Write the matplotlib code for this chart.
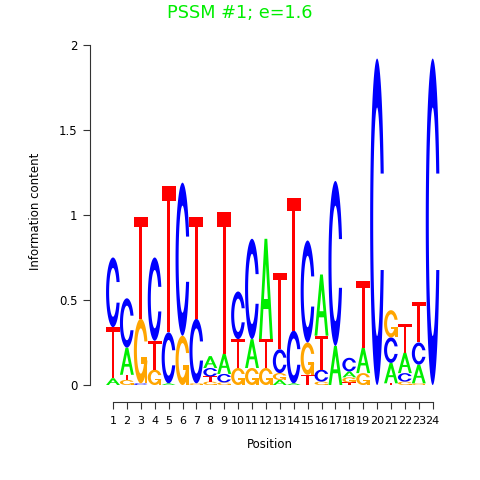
import matplotlib
matplotlib.use("Agg")

import matplotlib.pyplot as plt
import numpy as np
from matplotlib.patches import Polygon


TITLE = "PSSM #1; e=1.6"
POSITIONS = np.arange(1, 25)
# information content (bits) of each base per position
A_BITS = [0.04, 0.16, 0.00, 0.00, 0.01, 0.00, 0.00, 0.07, 0.12, 0.00, 0.17, 0.59,
          0.03, 0.01, 0.00, 0.36, 0.23, 0.035, 0.15, 0.00, 0.12, 0.12, 0.11, 0.00]
C_BITS = [0.41, 0.29, 0.01, 0.49, 0.30, 0.90, 0.38, 0.05, 0.05, 0.28, 0.59, 0.00,
          0.14, 0.31, 0.60, 0.07, 0.97, 0.08, 0.00, 1.92, 0.15, 0.05, 0.13, 1.92]
G_BITS = [0.00, 0.03, 0.38, 0.09, 0.00, 0.29, 0.01, 0.02, 0.015, 0.10, 0.10, 0.10,
          0.04, 0.00, 0.19, 0.02, 0.00, 0.03, 0.07, 0.00, 0.16, 0.02, 0.01, 0.00]
T_BITS = [0.30, 0.03, 0.60, 0.17, 0.86, 0.00, 0.60, 0.03, 0.83, 0.17, 0.00, 0.17,
          0.45, 0.78, 0.06, 0.20, 0.00, 0.015, 0.39, 0.00, 0.01, 0.17, 0.24, 0.00]

LETTER_COLORS = {"A": "#00ee00", "C": "#0000ff", "G": "#ffa500", "T": "#ff0000"}
TITLE_COLOR = "#00ee00"
LETTER_WIDTH = 1.0

W, H = 480, 480
X0_PX, X1_PX = 90, 450
POS1_PX, STEP_PX = 113.0, 13.9
Y_TOP_PX, Y_ZERO_PX, PX_PER_BIT = 45.0, 385.0, 170.0
Y_MIN = -0.12

INNER_RX, INNER_RY = 0.28, 0.35


def c_outline():
    a1 = np.linspace(0.3 + np.pi / 2, np.pi, 100)
    a2 = np.linspace(np.pi, 1.5 * np.pi, 100)
    xl = np.concatenate([0.5 + 0.5 * np.sin(a1), 0.5 + 0.5 * np.sin(a2)])
    yl = np.concatenate([0.5 + 0.5 * np.cos(a1), 0.5 + 0.5 * np.cos(a2)])
    x = np.concatenate([xl, xl[::-1]])
    y = np.concatenate([yl, 1 - yl[::-1]])
    h1 = (0.5 + 0.5 * np.cos(a1)).max()
    b1 = np.linspace(np.pi / 2, np.pi, 200)
    xi1 = 0.5 + INNER_RX * np.sin(b1)
    yi1 = 0.5 + INNER_RY * np.cos(b1)
    keep = yi1 <= h1
    xi1, yi1 = xi1[keep], yi1[keep]
    yi1[0] = h1
    xi = np.concatenate([xi1, 0.5 + INNER_RX * np.sin(a2)])
    yi = np.concatenate([yi1, 0.5 + INNER_RY * np.cos(a2)])
    x1 = np.concatenate([xi, xi[::-1]])
    y1 = np.concatenate([yi, 1 - yi[::-1]])
    x = np.concatenate([x, x1[::-1]])
    y = np.concatenate([y, y1[::-1]])
    return np.column_stack([x, y]), (0.5 + 0.5 * np.sin(a1)).max()


C_POLY, C_RIGHT = c_outline()
G_BAR = np.array([[C_RIGHT, 0.4], [0.5, 0.4], [0.5, 0.3], [C_RIGHT - 0.2, 0.3],
                  [C_RIGHT - 0.2, 0.0], [C_RIGHT, 0.0]])
A_OUTER = 0.1 * np.array([[0, 0], [4, 10], [6, 10], [10, 0], [8, 0], [6.8, 3],
                          [3.2, 3], [2, 0]])
A_HOLE = 0.1 * np.array([[3.6, 4], [5, 7.5], [6.4, 4]])
T_POLY = 0.1 * np.array([[0, 10], [10, 10], [10, 9], [6, 9], [6, 0], [4, 0], [4, 9], [0, 9]])

# (polygon, filled with letter colour?) in a unit box
SHAPES = {
    "A": [(A_OUTER, True), (A_HOLE, False)],
    "C": [(C_POLY, True)],
    "G": [(C_POLY, True), (G_BAR, True)],
    "T": [(T_POLY, True)],
}


def draw_letter(ax, letter, x_center, y_bottom, height):
    for poly, filled in SHAPES[letter]:
        pts = poly * [LETTER_WIDTH, height] + [x_center - LETTER_WIDTH / 2, y_bottom]
        color = LETTER_COLORS[letter] if filled else "white"
        ax.add_patch(Polygon(pts, closed=True, facecolor=color, edgecolor="none", lw=0))


fig = plt.figure(figsize=(W / 100, H / 100), dpi=100)
bottom_px = Y_ZERO_PX - Y_MIN * PX_PER_BIT
ax = fig.add_axes([X0_PX / W, 1 - bottom_px / H, (X1_PX - X0_PX) / W, (bottom_px - Y_TOP_PX) / H])

x_left = 1 + (X0_PX - POS1_PX) / STEP_PX
x_right = 1 + (X1_PX - POS1_PX) / STEP_PX
ax.set_xlim(x_left, x_right)
ax.set_ylim(Y_MIN, 2.0)

for i, pos in enumerate(POSITIONS):
    stack = [("A", A_BITS[i]), ("C", C_BITS[i]), ("G", G_BITS[i]), ("T", T_BITS[i])]
    stack = sorted([s for s in stack if s[1] > 0], key=lambda s: s[1])
    y = 0.0
    for letter, h in stack:
        draw_letter(ax, letter, pos, y, h)
        y += h

for side in ("top", "right"):
    ax.spines[side].set_visible(False)
ax.spines["left"].set_bounds(0, 2)
ax.spines["bottom"].set_bounds(1, 24)
ax.spines["bottom"].set_position(("data", -0.1))
ax.spines["left"].set_color("#333333")
ax.spines["bottom"].set_color("#333333")

ax.set_yticks([0, 0.5, 1, 1.5, 2])
ax.set_yticklabels(["0", "0.5", "1", "1.5", "2"])
ax.set_xticks(POSITIONS)
ax.set_xticklabels([str(p) for p in POSITIONS])
ax.tick_params(axis="both", direction="out", length=5, width=0.8, color="#333333",
               labelsize=8.5, pad=4)
ax.tick_params(axis="x", labelsize=8, pad=5)

ax.set_ylabel("Information content", fontsize=8.5)
ax.yaxis.set_label_coords((42 - X0_PX) / (X1_PX - X0_PX),
                          (bottom_px - 211) / (bottom_px - Y_TOP_PX))
ax.set_xlabel("Position", fontsize=8.5, labelpad=9)

fig.text(0.5, 1 - 13 / H, TITLE, color=TITLE_COLOR, fontsize=12.7,
         ha="center", va="center")

fig.savefig("out.png", dpi=100)
